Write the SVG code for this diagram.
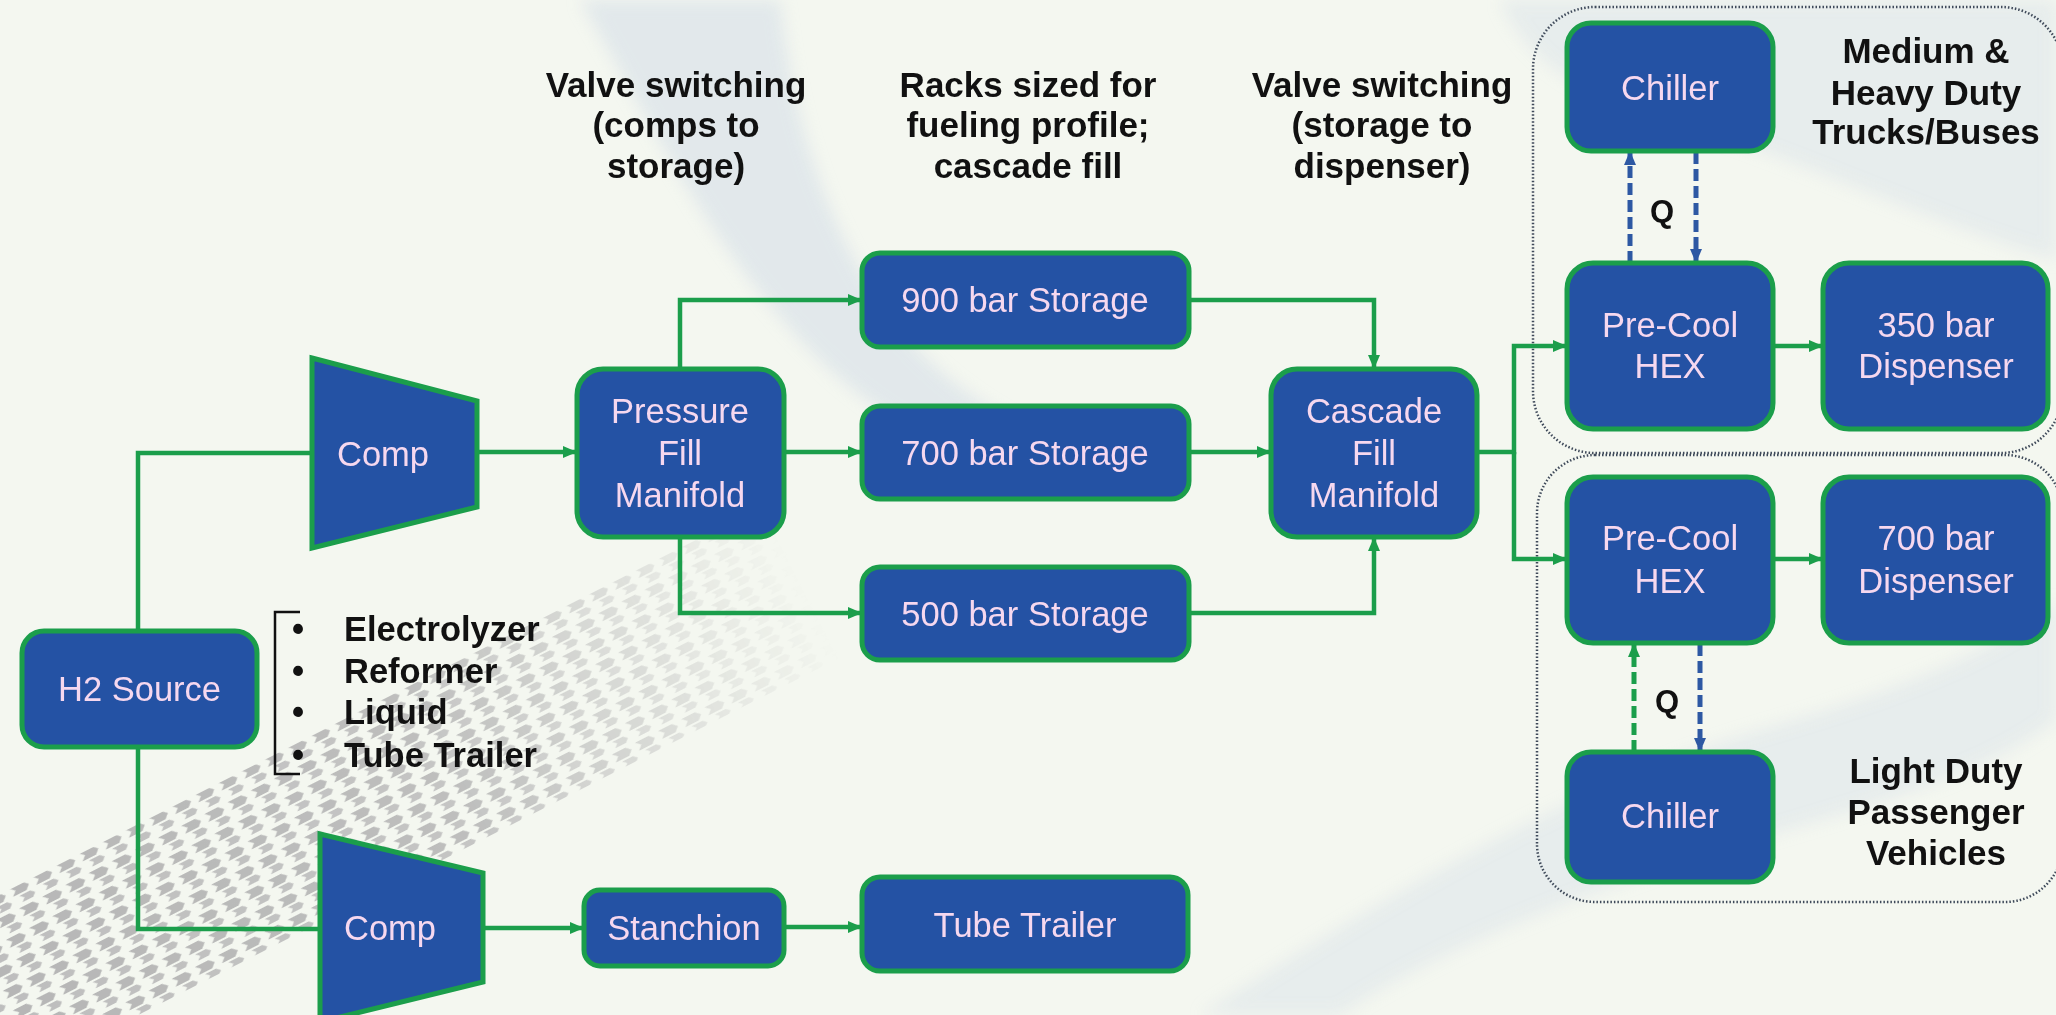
<svg xmlns="http://www.w3.org/2000/svg" width="2056" height="1015" viewBox="0 0 2056 1015">
  <defs>
    <style>
      .node { fill: #2452a4; stroke: #1b9e4b; stroke-width: 5; }
      .ntext { font-family: "Liberation Sans", Arial, sans-serif; font-size: 34.5px; fill: #f6d8ef; text-anchor: middle; }
      .btext { font-family: "Liberation Sans", Arial, sans-serif; font-size: 35px; font-weight: bold; fill: #111111; text-anchor: middle; }
      .ltext { font-family: "Liberation Sans", Arial, sans-serif; font-size: 34.5px; font-weight: bold; fill: #111111; }
      .conn { fill: none; stroke: #1b9e4b; stroke-width: 4.5; stroke-linejoin: miter; }
      .arr { marker-end: url(#ag); }
      .dashb { fill: none; stroke: #2d58a3; stroke-width: 5; stroke-dasharray: 12 5; marker-end: url(#ab); }
      .dashg { fill: none; stroke: #1b9e4b; stroke-width: 5; stroke-dasharray: 12 5; marker-end: url(#ag2); }
      .group { fill: none; stroke: #3f4a5a; stroke-width: 2.5; stroke-dasharray: 1.5 2; }
      .splash { fill: #d3dde7; }
    </style>
    <marker id="ag" markerWidth="14" markerHeight="14" refX="13" refY="7" orient="auto" markerUnits="userSpaceOnUse">
      <path d="M0,1 L14,7 L0,13 z" fill="#1b9e4b"/>
    </marker>
    <marker id="ag2" markerWidth="14" markerHeight="14" refX="13" refY="7" orient="auto" markerUnits="userSpaceOnUse">
      <path d="M0,1 L14,7 L0,13 z" fill="#1b9e4b"/>
    </marker>
    <marker id="ab" markerWidth="14" markerHeight="14" refX="13" refY="7" orient="auto" markerUnits="userSpaceOnUse">
      <path d="M0,1 L14,7 L0,13 z" fill="#2d58a3"/>
    </marker>
    <pattern id="tread" width="26" height="22" patternUnits="userSpaceOnUse">
      <path d="M2,2 h15 l5,4.5 l-5,4.5 h-15 l5,-4.5 z" fill="#b4b4b4"/>
      <path d="M8,13 h12 l4,3.5 l-4,3.5 h-12 l4,-3.5 z" fill="#bcbcbc"/>
    </pattern>
    <linearGradient id="fade" x1="0" y1="0" x2="1" y2="0">
      <stop offset="0" stop-color="#fff" stop-opacity="1"/>
      <stop offset="0.6" stop-color="#fff" stop-opacity="0.85"/>
      <stop offset="1" stop-color="#fff" stop-opacity="0"/>
    </linearGradient>
    <mask id="treadMask" maskUnits="userSpaceOnUse" x="-200" y="-200" width="1400" height="400">
      <rect x="-100" y="-200" width="1000" height="400" fill="url(#fade)"/>
    </mask>
    <filter id="soft" x="-20%" y="-20%" width="140%" height="140%">
      <feGaussianBlur stdDeviation="8"/>
    </filter>
  </defs>

  <rect x="0" y="0" width="2056" height="1015" fill="#f4f7f0"/>

  <!-- faint background artwork -->
  <g id="background-art">
    <g filter="url(#soft)" opacity="0.55">
      <path class="splash" d="M580,0 C650,120 710,250 820,360 C870,410 930,440 990,470 L1030,430 C950,390 900,340 860,270 C810,180 790,90 780,0 Z"/>
      <path class="splash" d="M1500,0 L2056,0 L2056,260 C1920,220 1780,150 1640,110 C1570,90 1520,50 1500,0 Z" opacity="0.7"/>
      <path class="splash" d="M1200,1015 C1380,900 1560,790 1760,730 C1900,690 2000,650 2056,600 L2056,720 C1980,780 1850,810 1720,850 C1560,900 1420,960 1340,1015 Z" opacity="0.7"/>
    </g>
    <g transform="translate(0,990) rotate(-27)">
      <rect x="-60" y="-85" width="960" height="170" fill="url(#tread)" mask="url(#treadMask)"/>
    </g>
  </g>

  <!-- group outlines -->
  <g id="group-heavy">
    <rect class="group" x="1533" y="7" width="530" height="446" rx="62"/>
  </g>
  <g id="group-light">
    <rect class="group" x="1537" y="455" width="526" height="447" rx="58"/>
  </g>

  <!-- annotations -->
  <g id="annotations">
    <text class="btext" x="676" y="97">Valve switching</text>
    <text class="btext" x="676" y="137">(comps to</text>
    <text class="btext" x="676" y="178">storage)</text>
    <text class="btext" x="1028" y="97">Racks sized for</text>
    <text class="btext" x="1028" y="137">fueling profile;</text>
    <text class="btext" x="1028" y="178">cascade fill</text>
    <text class="btext" x="1382" y="97">Valve switching</text>
    <text class="btext" x="1382" y="137">(storage to</text>
    <text class="btext" x="1382" y="178">dispenser)</text>
    <text class="btext" x="1926" y="63">Medium &amp;</text>
    <text class="btext" x="1926" y="105">Heavy Duty</text>
    <text class="btext" x="1926" y="144">Trucks/Buses</text>
    <text class="btext" x="1936" y="783">Light Duty</text>
    <text class="btext" x="1936" y="824">Passenger</text>
    <text class="btext" x="1936" y="865">Vehicles</text>
    <text class="btext" x="1662" y="222" style="font-size:31px">Q</text>
    <text class="btext" x="1667" y="712" style="font-size:31px">Q</text>
  </g>

  <g id="sources-list">
    <path d="M300,612 H275 V774 H300" fill="none" stroke="#111" stroke-width="2.5"/>
    <text class="ltext" x="292" y="641">•</text>
    <text class="ltext" x="344" y="641">Electrolyzer</text>
    <text class="ltext" x="292" y="683">•</text>
    <text class="ltext" x="344" y="683">Reformer</text>
    <text class="ltext" x="292" y="724">•</text>
    <text class="ltext" x="344" y="724">Liquid</text>
    <text class="ltext" x="292" y="767">•</text>
    <text class="ltext" x="344" y="767">Tube Trailer</text>
  </g>

  <!-- connectors -->
  <g id="connectors">
    <path class="conn" d="M138,631 V453 H313"/>
    <path class="conn" d="M138,747 V929 H320"/>
    <path class="conn arr" d="M477,452 H576"/>
    <path class="conn arr" d="M680,369 V300 H861"/>
    <path class="conn arr" d="M784,452 H861"/>
    <path class="conn arr" d="M680,537 V613 H861"/>
    <path class="conn arr" d="M1189,300 H1374 V368"/>
    <path class="conn arr" d="M1189,452 H1270"/>
    <path class="conn arr" d="M1189,613 H1374 V538"/>
    <path class="conn arr" d="M1477,452 H1514 V346 H1566"/>
    <path class="conn arr" d="M1514,452 V559 H1566"/>
    <path class="conn arr" d="M1773,346 H1822"/>
    <path class="conn arr" d="M1773,559 H1822"/>
    <path class="conn arr" d="M483,928 H583"/>
    <path class="conn arr" d="M784,927 H861"/>
    <path class="dashb" d="M1630,263 V152"/>
    <path class="dashb" d="M1696,152 V262"/>
    <path class="dashg" d="M1634,752 V644"/>
    <path class="dashb" d="M1700,644 V751"/>
  </g>

  <!-- nodes -->
  <g id="h2-source">
    <rect class="node" x="22" y="631" width="235" height="116" rx="22"/>
    <text class="ntext" x="139.5" y="701">H2 Source</text>
  </g>
  <g id="comp-top">
    <polygon class="node" points="312,358 477,401 477,507 312,548"/>
    <text class="ntext" x="383" y="466">Comp</text>
  </g>
  <g id="comp-bottom">
    <polygon class="node" points="320,834 483,873 483,982 320,1022"/>
    <text class="ntext" x="390" y="940">Comp</text>
  </g>
  <g id="pressure-fill-manifold">
    <rect class="node" x="577" y="369" width="207" height="168" rx="26"/>
    <text class="ntext" x="680" y="423">Pressure</text>
    <text class="ntext" x="680" y="465">Fill</text>
    <text class="ntext" x="680" y="507">Manifold</text>
  </g>
  <g id="storage-900">
    <rect class="node" x="862" y="253" width="327" height="94" rx="18"/>
    <text class="ntext" x="1025" y="312">900 bar Storage</text>
  </g>
  <g id="storage-700">
    <rect class="node" x="862" y="406" width="327" height="93" rx="18"/>
    <text class="ntext" x="1025" y="465">700 bar Storage</text>
  </g>
  <g id="storage-500">
    <rect class="node" x="862" y="567" width="327" height="93" rx="18"/>
    <text class="ntext" x="1025" y="626">500 bar Storage</text>
  </g>
  <g id="cascade-fill-manifold">
    <rect class="node" x="1271" y="369" width="206" height="168" rx="26"/>
    <text class="ntext" x="1374" y="423">Cascade</text>
    <text class="ntext" x="1374" y="465">Fill</text>
    <text class="ntext" x="1374" y="507">Manifold</text>
  </g>
  <g id="stanchion">
    <rect class="node" x="584" y="890" width="200" height="76" rx="16"/>
    <text class="ntext" x="684" y="940">Stanchion</text>
  </g>
  <g id="tube-trailer">
    <rect class="node" x="862" y="877" width="326" height="94" rx="18"/>
    <text class="ntext" x="1025" y="937">Tube Trailer</text>
  </g>
  <g id="chiller-heavy">
    <rect class="node" x="1567" y="23" width="206" height="128" rx="24"/>
    <text class="ntext" x="1670" y="100">Chiller</text>
  </g>
  <g id="precool-heavy">
    <rect class="node" x="1567" y="263" width="206" height="166" rx="26"/>
    <text class="ntext" x="1670" y="337">Pre-Cool</text>
    <text class="ntext" x="1670" y="378">HEX</text>
  </g>
  <g id="dispenser-350">
    <rect class="node" x="1823" y="263" width="225" height="166" rx="26"/>
    <text class="ntext" x="1936" y="337">350 bar</text>
    <text class="ntext" x="1936" y="378">Dispenser</text>
  </g>
  <g id="precool-light">
    <rect class="node" x="1567" y="477" width="206" height="166" rx="26"/>
    <text class="ntext" x="1670" y="550">Pre-Cool</text>
    <text class="ntext" x="1670" y="593">HEX</text>
  </g>
  <g id="dispenser-700">
    <rect class="node" x="1823" y="477" width="225" height="166" rx="26"/>
    <text class="ntext" x="1936" y="550">700 bar</text>
    <text class="ntext" x="1936" y="593">Dispenser</text>
  </g>
  <g id="chiller-light">
    <rect class="node" x="1567" y="752" width="206" height="130" rx="24"/>
    <text class="ntext" x="1670" y="828">Chiller</text>
  </g>
</svg>
